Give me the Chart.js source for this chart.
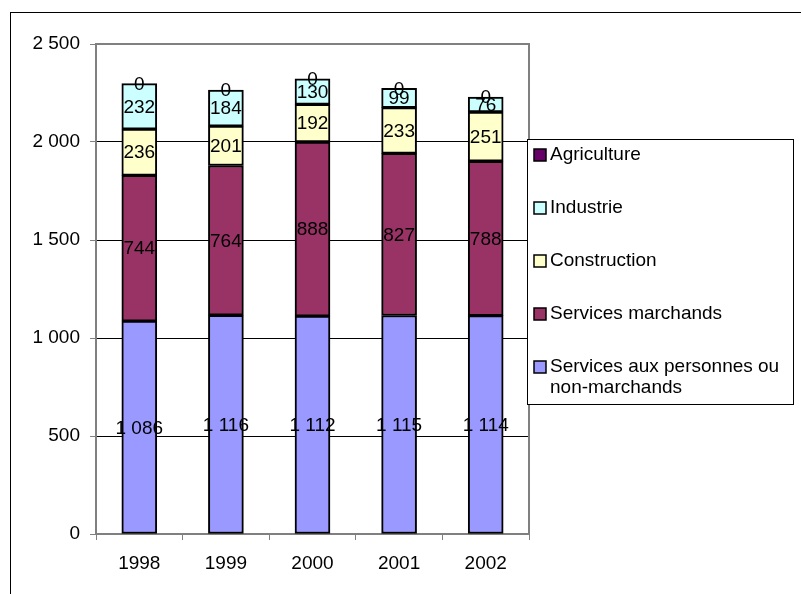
<!DOCTYPE html>
<html>
<head>
<meta charset="utf-8">
<script src="https://cdn.jsdelivr.net/npm/chart.js@4"></script>
<style>
  html, body { margin: 0; padding: 0; background: #fff; }
  #wrap { width: 801px; height: 594px; position: relative; }
</style>
</head>
<body>
<div id="wrap"><canvas id="chart" width="801" height="594"></canvas></div>
<script>
// Données
const annees = ['1998', '1999', '2000', '2001', '2002'];
const servicesPersonnes = [1086, 1116, 1112, 1115, 1114];
const servicesMarchands = [744, 764, 888, 827, 788];
const construction = [236, 201, 192, 233, 251];
const industrie = [232, 184, 130, 99, 76];
const agriculture = [0, 0, 0, 0, 0];
const yTicks = [0, 500, 1000, 1500, 2000, 2500];

const FONT = 'Liberation Sans, Arial, sans-serif';

function formatNombre(v) {
    return String(v).replace(/\B(?=(\d{3})+(?!\d))/g, ' ');
}

// Cadre extérieur + bordure de la zone de tracé
const cadrePlugin = {
    id: 'cadre',
    beforeDraw(chart) {
        const ctx = chart.ctx;
        ctx.save();
        ctx.fillStyle = '#fff';
        ctx.fillRect(0, 0, chart.width, chart.height);
        ctx.strokeStyle = '#000';
        ctx.lineWidth = 1;
        ctx.strokeRect(10.5, 12.5, 1000, 1000);
        ctx.restore();
    },
    afterDatasetsDraw(chart) {
        const a = chart.chartArea;
        const ctx = chart.ctx;
        ctx.save();
        ctx.strokeStyle = '#808080';
        ctx.lineWidth = 2;
        ctx.beginPath();
        ctx.moveTo(a.left, a.top);
        ctx.lineTo(a.right, a.top);
        ctx.lineTo(a.right, a.bottom);
        ctx.stroke();
        ctx.restore();
    }
};

// Étiquettes de valeurs centrées dans chaque segment
const etiquettesPlugin = {
    id: 'etiquettes',
    afterDatasetsDraw(chart) {
        const ctx = chart.ctx;
        ctx.save();
        ctx.font = '19px ' + FONT;
        ctx.fillStyle = '#000';
        ctx.textAlign = 'center';
        ctx.textBaseline = 'middle';
        chart.data.datasets.forEach((ds, i) => {
            const meta = chart.getDatasetMeta(i);
            meta.data.forEach((bar, j) => {
                const y = (bar.y + bar.base) / 2;
                ctx.fillText(formatNombre(ds.data[j]), bar.x, y + 1);
            });
        });
        ctx.restore();
    }
};

// Légende dessinée dans un cadre à droite
const legendePlugin = {
    id: 'legende',
    afterDraw(chart) {
        const ctx = chart.ctx;
        const x0 = 527, y0 = 139, w = 266, h = 265;
        ctx.save();
        ctx.fillStyle = '#fff';
        ctx.fillRect(x0, y0, w, h);
        ctx.strokeStyle = '#000';
        ctx.lineWidth = 1;
        ctx.strokeRect(x0 + 0.5, y0 + 0.5, w, h);
        ctx.font = '19px ' + FONT;
        ctx.textBaseline = 'middle';
        const items = chart.data.datasets.slice().reverse();
        items.forEach((ds, k) => {
            const cy = 155 + k * 53;
            ctx.fillStyle = ds.backgroundColor;
            ctx.fillRect(534, cy - 6, 12, 12);
            ctx.strokeStyle = '#000';
            ctx.lineWidth = 1.5;
            ctx.strokeRect(534, cy - 6, 12, 12);
            ctx.fillStyle = '#000';
            const lignes = ds.label.split('\n');
            lignes.forEach((t, n) => ctx.fillText(t, 550, cy + n * 21));
        });
        ctx.restore();
    }
};

const jeu = (label, data, couleur) => ({
    label: label,
    data: data,
    backgroundColor: couleur,
    borderColor: '#000',
    borderWidth: 2,
    borderSkipped: false,
    barThickness: 35
});

new Chart(document.getElementById('chart'), {
    type: 'bar',
    data: {
        labels: annees,
        datasets: [
            jeu('Services aux personnes ou\nnon-marchands', servicesPersonnes, '#9999FF'),
            jeu('Services marchands', servicesMarchands, '#993366'),
            jeu('Construction', construction, '#FFFFCC'),
            jeu('Industrie', industrie, '#CCFFFF'),
            jeu('Agriculture', agriculture, '#660066')
        ]
    },
    options: {
        responsive: false,
        animation: false,
        layout: { padding: { left: 0, top: 44, right: 272, bottom: 0 } },
        plugins: {
            legend: { display: false },
            tooltip: { enabled: false }
        },
        scales: {
            x: {
                stacked: true,
                afterFit: s => { s.height = 60; },
                grid: {
                    offset: true,
                    drawOnChartArea: false,
                    color: '#808080',
                    lineWidth: 1,
                    tickLength: 6
                },
                border: { color: '#808080', width: 2 },
                ticks: {
                    color: '#000',
                    font: { size: 19, family: FONT },
                    padding: 12,
                    maxRotation: 0
                }
            },
            y: {
                stacked: true,
                min: 0,
                max: 2500,
                afterFit: s => { s.width = 96; },
                afterBuildTicks: s => { s.ticks = yTicks.map(v => ({ value: v })); },
                grid: {
                    color: '#000',
                    lineWidth: 1,
                    tickLength: 6,
                    tickColor: '#808080'
                },
                border: { color: '#808080', width: 2 },
                ticks: {
                    color: '#000',
                    font: { size: 19, family: FONT },
                    padding: 10,
                    callback: v => formatNombre(v)
                }
            }
        }
    },
    plugins: [cadrePlugin, etiquettesPlugin, legendePlugin]
});
</script>
</body>
</html>
